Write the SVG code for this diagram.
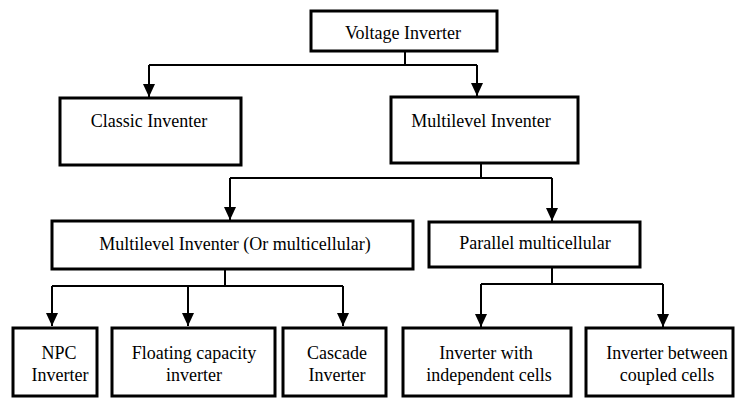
<svg xmlns="http://www.w3.org/2000/svg" width="735" height="399" viewBox="0 0 735 399">
<defs>
<marker id="ah" markerUnits="userSpaceOnUse" markerWidth="13" markerHeight="12" refX="13" refY="6" orient="auto">
<path d="M0,0 L13,6 L0,12 z" fill="#000"/>
</marker>
</defs>
<rect width="735" height="399" fill="#fff"/>
<g id="connectors" fill="none" stroke="#000" stroke-width="2">
<path d="M405,51 V65 M149,65 H477"/>
<path d="M149,65 V97" marker-end="url(#ah)"/>
<path d="M477,65 V96" marker-end="url(#ah)"/>
<path d="M481,163 V178 M230,178 H552"/>
<path d="M230,178 V220" marker-end="url(#ah)"/>
<path d="M552,178 V221" marker-end="url(#ah)"/>
<path d="M225,269 V286 M52,286 H343"/>
<path d="M52,286 V326" marker-end="url(#ah)"/>
<path d="M188,286 V326" marker-end="url(#ah)"/>
<path d="M343,286 V326" marker-end="url(#ah)"/>
<path d="M552,267 V284 M481,284 H663"/>
<path d="M481,284 V327" marker-end="url(#ah)"/>
<path d="M663,284 V327" marker-end="url(#ah)"/>
</g>
<g id="nodes">
<g id="voltage">
<rect x="311" y="11" width="186" height="40" fill="#fff" stroke="#000" stroke-width="3"/>
<text x="403" y="39" text-anchor="middle" style="font-family:'Times New Roman',serif;font-size:18px">Voltage Inverter</text>
</g>
<g id="classic">
<rect x="60" y="98" width="181" height="67" fill="#fff" stroke="#000" stroke-width="3"/>
<text x="149" y="127" text-anchor="middle" style="font-family:'Times New Roman',serif;font-size:18px">Classic Inventer</text>
</g>
<g id="multilevel">
<rect x="391" y="97" width="187" height="66" fill="#fff" stroke="#000" stroke-width="3"/>
<text x="481" y="127" text-anchor="middle" style="font-family:'Times New Roman',serif;font-size:18px">Multilevel Inventer</text>
</g>
<g id="multicellular">
<rect x="52" y="221" width="361" height="48" fill="#fff" stroke="#000" stroke-width="3"/>
<text x="235" y="250" text-anchor="middle" style="font-family:'Times New Roman',serif;font-size:18px">Multilevel Inventer (Or multicellular)</text>
</g>
<g id="parallel">
<rect x="429" y="222" width="211" height="45" fill="#fff" stroke="#000" stroke-width="3"/>
<text x="535" y="249" text-anchor="middle" style="font-family:'Times New Roman',serif;font-size:18px">Parallel multicellular</text>
</g>
<g id="npc">
<rect x="13" y="328" width="84" height="68" fill="#fff" stroke="#000" stroke-width="3"/>
<text x="59" y="359" text-anchor="middle" style="font-family:'Times New Roman',serif;font-size:18px">NPC</text>
<text x="60" y="381" text-anchor="middle" style="font-family:'Times New Roman',serif;font-size:18px">Inverter</text>
</g>
<g id="floating">
<rect x="112" y="328" width="163" height="68" fill="#fff" stroke="#000" stroke-width="3"/>
<text x="194" y="359" text-anchor="middle" style="font-family:'Times New Roman',serif;font-size:18px">Floating capacity</text>
<text x="194" y="381" text-anchor="middle" style="font-family:'Times New Roman',serif;font-size:18px">inverter</text>
</g>
<g id="cascade">
<rect x="283" y="328" width="103" height="68" fill="#fff" stroke="#000" stroke-width="3"/>
<text x="337" y="359" text-anchor="middle" style="font-family:'Times New Roman',serif;font-size:18px">Cascade</text>
<text x="337" y="381" text-anchor="middle" style="font-family:'Times New Roman',serif;font-size:18px">Inverter</text>
</g>
<g id="independent">
<rect x="403" y="328" width="168" height="68" fill="#fff" stroke="#000" stroke-width="3"/>
<text x="486" y="359" text-anchor="middle" style="font-family:'Times New Roman',serif;font-size:18px">Inverter with</text>
<text x="489" y="381" text-anchor="middle" style="font-family:'Times New Roman',serif;font-size:18px">independent cells</text>
</g>
<g id="coupled">
<rect x="586" y="328" width="147" height="68" fill="#fff" stroke="#000" stroke-width="3"/>
<text x="667" y="359" text-anchor="middle" style="font-family:'Times New Roman',serif;font-size:18px">Inverter between</text>
<text x="667" y="381" text-anchor="middle" style="font-family:'Times New Roman',serif;font-size:18px">coupled cells</text>
</g>
</g>
</svg>
